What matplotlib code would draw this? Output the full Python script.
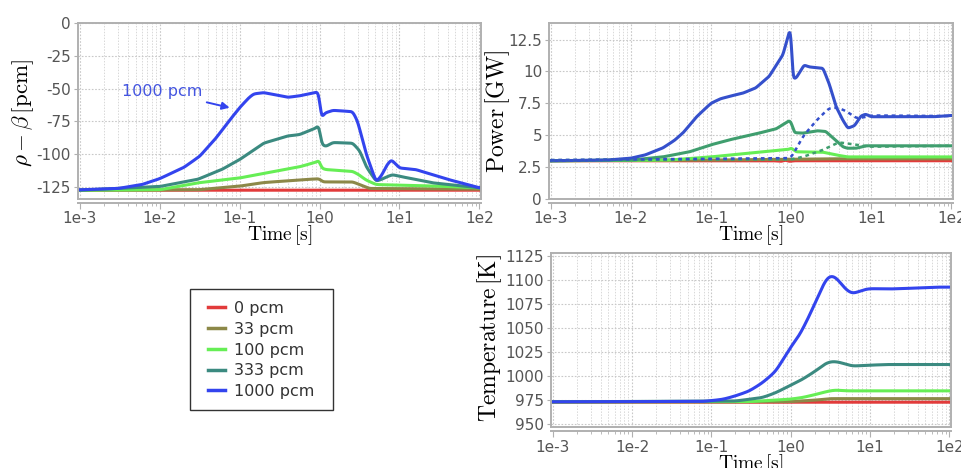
import numpy as np
import matplotlib
matplotlib.use("Agg")
import matplotlib.pyplot as plt
from matplotlib.patches import Rectangle
from matplotlib.ticker import FixedLocator, LogLocator, NullFormatter

plt.rcParams['mathtext.fontset'] = 'cm'
plt.rcParams['font.family'] = 'DejaVu Sans'

# colours / labels #################################################
labels = ["0 pcm", "33 pcm", "100 pcm", "333 pcm", "1000 pcm"]
colors = ["#e23b3b", "#8c8848", "#66ee55", "#3b8a80", "#3344ee"]
# the power panel renders the two upper curves a bit differently
pow_colors = ["#e23b3b", "#8c8848", "#66ee55", "#3f9e6e", "#3550cc"]

# reactivity rho - beta [pcm] #######################################
rho_t0 = [1e-3, 100]
rho_v0 = [-127.3, -127.3]

rho_t33 = [1e-3, 0.03, 0.1, 0.2, 0.56, 0.95, 1.0, 1.1, 2.6, 3.5, 4.2, 100]
rho_v33 = [-127.3, -127.0, -124.2, -121.5, -119.5, -118.6, -118.8, -121.0, -121.0, -124.0, -126.0, -126.5]

rho_t100 = [1e-3, 0.01, 0.03, 0.1, 0.2, 0.56, 0.9, 0.99, 1.05, 1.2, 2.6, 3.1, 3.8, 5.1, 10, 30, 100]
rho_v100 = [-127.3, -127.0, -121.7, -118.0, -114.5, -109.5, -106.0, -104.0, -110.5, -111.6, -113.0, -115.5,
            -119.5, -123.0, -123.5, -124.2, -125.5]

rho_t333 = [1e-3, 0.01, 0.03, 0.06, 0.1, 0.2, 0.4, 0.56, 0.9, 0.99, 1.05, 1.2, 1.47, 2.6, 3.2, 3.8, 5.1,
            6.0, 7.2, 8.2, 10, 26, 100]
rho_v333 = [-127.3, -124.5, -119.0, -111.5, -104.0, -91.5, -86.0, -85.0, -80.0, -77.0, -92.5, -94.0, -91.0,
            -91.5, -97.5, -109.0, -120.5, -119.0, -116.7, -115.5, -116.7, -121.7, -125.5]

rho_t1000 = [1e-3, 0.003, 0.006, 0.01, 0.02, 0.0316, 0.05, 0.075, 0.1, 0.13, 0.15, 0.2, 0.4, 0.56, 0.95,
             0.99, 1.04, 1.15, 1.47, 2.6, 3.0, 3.8, 5.1, 6.0, 6.8, 7.9, 10, 16, 40, 100]
rho_v1000 = [-127.0, -126.0, -123.0, -118.5, -110.0, -101.5, -88.0, -74.0, -64.5, -57.0, -54.0, -53.0,
             -56.6, -55.5, -52.5, -52.5, -74.0, -68.7, -66.5, -67.5, -75.0, -99.0, -121.0, -116.0, -109.0,
             -104.0, -110.4, -111.6, -119.0, -125.5]

# power [GW] #########################################################
pow_t0 = [1e-3, 0.6, 0.75, 0.85, 0.95, 1.1, 100]
pow_v0 = [3.0, 3.0, 2.95, 3.05, 2.95, 3.0, 3.0]

pow_t33 = [1e-3, 0.1, 1.0, 2.0, 100]
pow_v33 = [3.0, 3.05, 3.12, 3.15, 3.15]

pow_t100 = [1e-3, 0.03, 0.1, 0.36, 0.95, 1.0, 1.16, 2.5, 3.6, 5.0, 100]
pow_v100 = [3.0, 3.05, 3.3, 3.65, 3.9, 4.0, 3.7, 3.67, 3.46, 3.3, 3.3]

pow_t333 = [1e-3, 0.01, 0.025, 0.054, 0.1, 0.17, 0.36, 0.65, 0.95, 1.0, 1.1, 1.4, 2.1, 2.7, 3.6, 4.4,
            5.0, 6.5, 8.5, 100]
pow_v333 = [3.0, 3.05, 3.3, 3.7, 4.25, 4.64, 5.1, 5.5, 6.15, 6.0, 5.2, 5.16, 5.35, 5.3, 4.6, 4.1,
            3.98, 3.98, 4.17, 4.17]

pow_t1000 = [1e-3, 0.005, 0.01, 0.015, 0.025, 0.035, 0.045, 0.065, 0.085, 0.1, 0.13, 0.17, 0.25, 0.36,
             0.53, 0.79, 0.975, 1.0, 1.05, 1.16, 1.45, 1.7, 2.5, 3.0, 3.6, 4.4, 5.1, 6.2, 7.4, 8.5, 10, 60, 100]
pow_v1000 = [3.0, 3.05, 3.2, 3.45, 4.0, 4.6, 5.2, 6.4, 7.1, 7.5, 7.85, 8.05, 8.3, 8.7,
             9.6, 11.3, 13.4, 12.8, 9.4, 9.5, 10.5, 10.35, 10.25, 9.0, 7.3, 6.2, 5.55, 5.75, 6.5, 6.65,
             6.45, 6.45, 6.55]

# dotted power curves (333 and 1000 pcm)
powd_t333 = [1e-3, 1.0, 1.4, 2.5, 3.9, 6.5, 9.5, 100]
powd_v333 = [3.05, 3.1, 3.3, 3.85, 4.45, 4.25, 4.1, 4.17]

powd_t1000 = [1e-3, 1.0, 1.4, 2.1, 3.0, 3.9, 5.0, 6.6, 10.4, 100]
powd_v1000 = [3.05, 3.2, 4.9, 6.2, 7.15, 7.15, 6.85, 6.3, 6.55, 6.5]

# temperature [K] ###################################################
tmp_t0 = [1e-3, 100]
tmp_v0 = [972.8, 972.8]

tmp_t33 = [1e-3, 0.95, 2.1, 3.0, 100]
tmp_v33 = [973.2, 973.4, 975.0, 976.5, 976.5]

tmp_t100 = [1e-3, 0.3, 0.95, 1.4, 2.1, 3.0, 3.7, 5.0, 100]
tmp_v100 = [973.2, 973.4, 975.8, 977.6, 981.0, 984.4, 985.5, 984.6, 984.6]

tmp_t333 = [1e-3, 0.2, 0.44, 0.65, 0.95, 1.4, 2.1, 2.8, 3.4, 4.1, 6.0, 8.1, 16, 100]
tmp_v333 = [973.2, 974.0, 977.6, 982.7, 989.6, 996.5, 1005.8, 1013.7, 1015.4, 1014.4, 1010.3, 1011.0,
            1012.0, 1012.0]

tmp_t1000 = [1e-3, 0.08, 0.14, 0.2, 0.3, 0.44, 0.65, 0.95, 1.3, 1.7, 2.3, 2.8, 3.2, 3.7, 5.0, 6.0, 8.1,
             9.8, 16, 26, 70, 100]
tmp_v1000 = [973.2, 973.6, 975.8, 979.3, 984.4, 993.0, 1005.0, 1027.5, 1043.0, 1062.0, 1086.0, 1101.6,
             1105.0, 1103.0, 1089.5, 1085.4, 1089.5, 1091.0, 1090.5, 1091.0, 1092.5, 1092.5]

rho = [(rho_t0, rho_v0), (rho_t33, rho_v33), (rho_t100, rho_v100), (rho_t333, rho_v333), (rho_t1000, rho_v1000)]
pw = [(pow_t0, pow_v0), (pow_t33, pow_v33), (pow_t100, pow_v100), (pow_t333, pow_v333), (pow_t1000, pow_v1000)]
tmp = [(tmp_t0, tmp_v0), (tmp_t33, tmp_v33), (tmp_t100, tmp_v100), (tmp_t333, tmp_v333), (tmp_t1000, tmp_v1000)]

x_ticks = [1e-3, 1e-2, 1e-1, 1e0, 1e1, 1e2]
x_tick_labels = ["1e-3", "1e-2", "1e-1", "1e0", "1e1", "1e2"]

frame_col = "#b0b0b0"
tick_col = "#555555"


def smooth(t, v, sig=0.015):
    # dense log-spaced sampling of the read-off points, lightly smoothed
    lt = np.log10(t)
    xx = np.linspace(lt[0], lt[-1], 1500)
    yy = np.interp(xx, lt, v)
    dx = xx[1] - xx[0]
    k = np.arange(-int(4 * sig / dx), int(4 * sig / dx) + 1) * dx
    w = np.exp(-0.5 * (k / sig) ** 2)
    w /= w.sum()
    n = len(k) // 2
    yp = np.concatenate([np.full(n, yy[0]), yy, np.full(n, yy[-1])])
    return 10**xx, np.convolve(yp, w, mode="valid")


def style_axis(ax, yticks, ylabels, ylim):
    ax.set_xscale("log")
    ax.set_xlim(0.95e-3, 1.05e2)
    ax.set_ylim(*ylim)
    ax.xaxis.set_major_locator(FixedLocator(x_ticks))
    ax.set_xticklabels(x_tick_labels)
    ax.xaxis.set_minor_locator(LogLocator(base=10, subs=np.arange(2, 10)))
    ax.xaxis.set_minor_formatter(NullFormatter())
    ax.set_yticks(yticks)
    ax.set_yticklabels(ylabels)
    ax.grid(True, which="major", color="#c8c8c8", linestyle=(0, (1.5, 1.5)), lw=0.8)
    ax.grid(True, which="minor", axis="x", color="#d8d8d8", linestyle=(0, (1.5, 1.5)), lw=0.7)
    for s in ax.spines.values():
        s.set_color(frame_col)
        s.set_linewidth(1.4)
    # tick line sits a little under the frame
    ax.spines["bottom"].set_position(("outward", 3))
    ax.plot([0, 1], [0, 0], transform=ax.transAxes, color=frame_col, lw=1.4, clip_on=False, zorder=3)
    ax.tick_params(axis="both", which="both", colors=frame_col, labelcolor=tick_col, labelsize=11)
    ax.tick_params(axis="x", which="major", length=4, direction="out", pad=2)
    ax.tick_params(axis="x", which="minor", length=2.5, direction="out")
    ax.tick_params(axis="y", length=3, direction="out", pad=2)
    ax.set_xlabel(r"$\mathrm{Time}\,[\mathrm{s}]$", fontsize=14, labelpad=-2)


fig = plt.figure(figsize=(9.62, 4.68), dpi=100)
ax1 = fig.add_axes([0.0811, 0.5748, 0.419, 0.3761])
ax2 = fig.add_axes([0.5707, 0.5748, 0.420, 0.3761])
ax3 = fig.add_axes([0.5728, 0.0876, 0.4158, 0.3718])

handles = []
for (t, v), c, lab in zip(rho, colors, labels):
    xs, ys = smooth(t, v, 0.018)
    h, = ax1.plot(xs, ys, color=c, lw=2.2, label=lab)
    handles.append(h)
for (t, v), c in zip(pw, pow_colors):
    xs, ys = smooth(t, v, 0.012)
    ax2.plot(xs, ys, color=c, lw=2.2)
for (t, v), c in [((powd_t333, powd_v333), pow_colors[3]), ((powd_t1000, powd_v1000), pow_colors[4])]:
    xs, ys = smooth(t, v, 0.03)
    ax2.plot(xs, ys, color=c, lw=1.8, linestyle=(0, (1.5, 1.5)))
for (t, v), c in zip(tmp, colors):
    xs, ys = smooth(t, v, 0.04)
    ax3.plot(xs, ys, color=c, lw=2.2)

style_axis(ax1, [0, -25, -50, -75, -100, -125], ["0", "-25", "-50", "-75", "-100", "-125"], (-134, 0))
ax1.set_ylabel(r"$\rho - \beta\,[\mathrm{pcm}]$", fontsize=16.5)
ax1.yaxis.set_label_coords(-0.105, 0.49)

style_axis(ax2, [0, 2.5, 5, 7.5, 10, 12.5], ["0", "2.5", "5", "7.5", "10", "12.5"], (0, 13.8))
ax2.set_ylabel(r"$\mathrm{Power}\,[\mathrm{GW}]$", fontsize=17)
ax2.yaxis.set_label_coords(-0.092, 0.5)

style_axis(ax3, [950, 975, 1000, 1025, 1050, 1075, 1100, 1125],
           ["950", "975", "1000", "1025", "1050", "1075", "1100", "1125"], (947, 1128))
ax3.set_ylabel(r"$\mathrm{Temperature}\,[\mathrm{K}]$", fontsize=17)
ax3.yaxis.set_label_coords(-0.118, 0.51)

ax1.annotate("1000 pcm", xy=(0.075, -64.5), xytext=(0.0034, -52.5), color="#4455e0", fontsize=11.5,
             va="center", ha="left",
             arrowprops=dict(arrowstyle="-|>", color="#3344ee", lw=1.4, mutation_scale=11,
                             shrinkA=1, shrinkB=0))

# legend, with its own box drawn in figure pixels
fig.patches.append(Rectangle((190 / 962, 1 - 410 / 468), 143 / 962, 121 / 468, transform=fig.transFigure,
                             facecolor="white", edgecolor="#333333", lw=1.0, zorder=1))
leg = fig.legend(handles=handles, loc="upper left", bbox_to_anchor=(208 / 962, 1 - 301 / 468),
                 frameon=False, fontsize=11.5, handlelength=1.05, handletextpad=0.6, labelspacing=0.36,
                 borderpad=0, borderaxespad=0)
for line in leg.get_lines():
    line.set_linewidth(2.5)
for txt in leg.get_texts():
    txt.set_color("#333333")

fig.savefig("out.png", dpi=100)
